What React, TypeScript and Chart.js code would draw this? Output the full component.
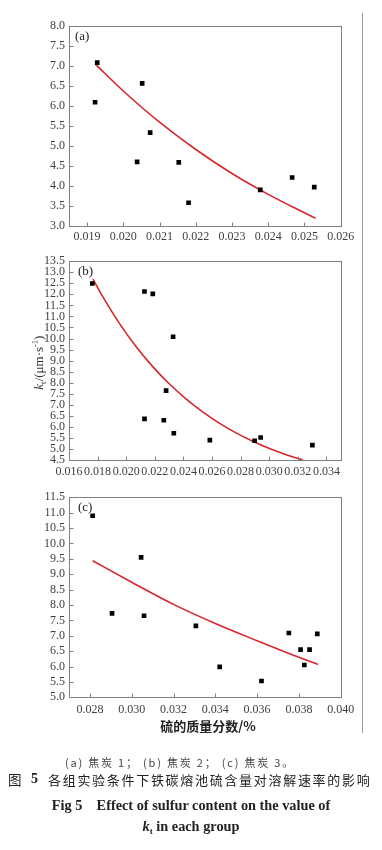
import React, { useEffect, useRef } from "react";
import { Chart, registerables } from "chart.js";
Chart.register(...registerables);

// ---------- data ----------
// panel (a) coke 1
const aPointX = [0.01928, 0.01922, 0.02052, 0.02074, 0.02038, 0.02153, 0.0218, 0.02378, 0.02466, 0.02527];
const aPointY = [7.08, 6.09, 6.56, 5.33, 4.6, 4.59, 3.58, 3.9, 4.21, 3.97];
const aFitX = [0.01924, 0.02, 0.021, 0.022, 0.023, 0.024, 0.025, 0.02531];
const aFitY = [7.03, 6.37, 5.59, 4.91, 4.31, 3.79, 3.33, 3.19];
const aXTicks = [0.019, 0.02, 0.021, 0.022, 0.023, 0.024, 0.025, 0.026];
const aYTicks = [3.0, 3.5, 4.0, 4.5, 5.0, 5.5, 6.0, 6.5, 7.0, 7.5, 8.0];

// panel (b) coke 2
const bPointX = [0.01763, 0.02128, 0.02186, 0.02328, 0.02279, 0.02128, 0.02263, 0.02333, 0.02585, 0.02898, 0.0294, 0.03302];
const bPointY = [12.49, 12.13, 12.02, 10.08, 7.64, 6.36, 6.3, 5.71, 5.4, 5.37, 5.52, 5.17];
const bFitX = [0.01768, 0.01834, 0.0195, 0.02067, 0.02184, 0.02301, 0.02418, 0.02535, 0.02651, 0.02768, 0.02885, 0.03002, 0.03119, 0.03236];
const bFitY = [12.69, 11.92, 10.71, 9.65, 8.74, 7.95, 7.27, 6.68, 6.17, 5.73, 5.35, 5.02, 4.74, 4.5];
const bXTicks = [0.016, 0.018, 0.02, 0.022, 0.024, 0.026, 0.028, 0.03, 0.032, 0.034];
const bYTicks = [4.5, 5.0, 5.5, 6.0, 6.5, 7.0, 7.5, 8.0, 8.5, 9.0, 9.5, 10.0, 10.5, 11.0, 11.5, 12.0, 12.5, 13.0, 13.5];

// panel (c) coke 3
const cPointX = [0.02813, 0.02906, 0.03045, 0.03059, 0.03307, 0.03421, 0.03621, 0.03752, 0.03808, 0.03826, 0.03851, 0.03888];
const cPointY = [10.9, 7.73, 9.55, 7.65, 7.32, 5.99, 5.53, 7.09, 6.55, 6.05, 6.55, 7.06];
const cFitX = [0.02813, 0.03, 0.032, 0.034, 0.036, 0.038, 0.03891];
const cFitY = [9.44, 8.74, 8.02, 7.4, 6.84, 6.3, 6.07];
const cXTicks = [0.028, 0.03, 0.032, 0.034, 0.036, 0.038, 0.04];
const cYTicks = [5.0, 5.5, 6.0, 6.5, 7.0, 7.5, 8.0, 8.5, 9.0, 9.5, 10.0, 10.5, 11.0, 11.5];

const panelLabels = ["(a)", "(b)", "(c)"];
const xTitle = "硫的质量分数/%";
const captionSub = "(a) 焦炭 1； (b) 焦炭 2； (c) 焦炭 3。";
const captionCn = "各组实验条件下铁碳熔池硫含量对溶解速率的影响";
const captionEn = "Fig 5\u2003Effect of sulfur content on the value of";

const SERIF = '"Liberation Serif", "DejaVu Serif", serif';
const CJK = '"Noto Sans CJK SC", "Noto Sans", sans-serif';
const FRAME = "#808080";
const TICK_TEXT = "#404040";

type PanelCfg = {
  pointX: number[];
  pointY: number[];
  fitX: number[];
  fitY: number[];
  xTicks: number[];
  yTicks: number[];
  xMin: number;
  xMax: number;
  yMin: number;
  yMax: number;
  label: string;
  labelDx: number;
  top: number;
  height: number;
  padTop: number;
  xAxisH: number;
  xPad: number;
  yTitle?: boolean;
};

const framePlugin = {
  id: "frameTicks",
  afterDraw(chart: any, _args: any, opts: any) {
    const ctx = chart.ctx as CanvasRenderingContext2D;
    const { left, right, top, bottom } = chart.chartArea;
    const xs = chart.scales.x;
    const ys = chart.scales.y;
    ctx.save();
    ctx.strokeStyle = FRAME;
    ctx.lineWidth = 1;
    const L = Math.round(left) + 0.5;
    const R = Math.round(right) + 0.5;
    const T = Math.round(top) + 0.5;
    const B = Math.round(bottom) + 0.5;
    ctx.strokeRect(L, T, R - L, B - T);
    ctx.beginPath();
    xs.ticks.forEach((t: any) => {
      const px = Math.round(xs.getPixelForValue(t.value)) + 0.5;
      ctx.moveTo(px, B);
      ctx.lineTo(px, B - 4);
    });
    ys.ticks.forEach((t: any) => {
      const py = Math.round(ys.getPixelForValue(t.value)) + 0.5;
      ctx.moveTo(L, py);
      ctx.lineTo(L + 4, py);
    });
    ctx.stroke();
    // panel label
    ctx.fillStyle = "#222";
    ctx.font = `13px ${SERIF}`;
    ctx.textBaseline = "middle";
    ctx.textAlign = "left";
    ctx.fillText(opts.label, left + opts.labelDx, top + 10.5);
    // optional y title with italic k, subscript t, superscript -1
    if (opts.yTitle) {
      ctx.translate(43, (top + bottom) / 2 + 2);
      ctx.rotate(-Math.PI / 2);
      ctx.textBaseline = "alphabetic";
      const parts: [string, string, number][] = [
        ["k", `italic 13px ${SERIF}`, 0],
        ["t", `9px ${SERIF}`, 3],
        ["/(μm·s", `13px ${SERIF}`, 0],
        ["-1", `8.5px ${SERIF}`, -5],
        [")", `13px ${SERIF}`, 0],
      ];
      let w = 0;
      parts.forEach(([s, f]) => {
        ctx.font = f;
        w += ctx.measureText(s).width;
      });
      let x = -w / 2;
      ctx.fillStyle = "#333";
      parts.forEach(([s, f, dy]) => {
        ctx.font = f;
        ctx.fillText(s, x, dy);
        x += ctx.measureText(s).width;
      });
    }
    ctx.restore();
  },
};

function Panel(p: PanelCfg) {
  const ref = useRef<HTMLCanvasElement | null>(null);
  useEffect(() => {
    if (!ref.current) return;
    const pts = p.pointX.map((x, i) => ({ x, y: p.pointY[i] }));
    const fit = p.fitX.map((x, i) => ({ x, y: p.fitY[i] }));
    const chart = new Chart(ref.current, {
      type: "scatter",
      data: {
        datasets: [
          {
            data: pts,
            pointStyle: "rect",
            pointRadius: 3.3,
            backgroundColor: "#000",
            borderColor: "#000",
            borderWidth: 0,
            showLine: false,
          },
          {
            data: fit,
            showLine: true,
            borderColor: "#d8262b",
            borderWidth: 1.6,
            pointRadius: 0,
            tension: 0.4,
            cubicInterpolationMode: "monotone",
            fill: false,
          } as any,
        ],
      },
      options: {
        animation: false,
        responsive: false,
        events: [],
        layout: { padding: { top: p.padTop, right: 382 - 340.7, bottom: 0, left: 0 } },
        plugins: {
          legend: { display: false },
          tooltip: { enabled: false },
          frameTicks: { label: p.label, labelDx: p.labelDx, yTitle: !!p.yTitle },
        } as any,
        scales: {
          x: {
            type: "linear",
            min: p.xMin,
            max: p.xMax,
            afterBuildTicks: (s: any) => {
              s.ticks = p.xTicks.map((v) => ({ value: v }));
            },
            afterFit: (s: any) => {
              s.height = p.xAxisH;
            },
            grid: { display: false, drawTicks: false },
            border: { display: false },
            ticks: {
              autoSkip: false,
              maxRotation: 0,
              minRotation: 0,
              padding: p.xPad,
              color: TICK_TEXT,
              font: { family: SERIF, size: 12 },
              callback: (v: any) => Number(v).toFixed(3),
            },
          },
          y: {
            type: "linear",
            min: p.yMin,
            max: p.yMax,
            afterBuildTicks: (s: any) => {
              s.ticks = p.yTicks.map((v) => ({ value: v }));
            },
            afterFit: (s: any) => {
              s.width = 69;
            },
            grid: { display: false, drawTicks: false },
            border: { display: false },
            ticks: {
              autoSkip: false,
              padding: 4,
              color: TICK_TEXT,
              font: { family: SERIF, size: 12 },
              callback: (v: any) => Number(v).toFixed(1),
            },
          },
        },
      },
      plugins: [framePlugin as any],
    });
    return () => chart.destroy();
  }, []);
  return (
    <canvas
      ref={ref}
      width={382}
      height={p.height}
      style={{ position: "absolute", left: 0, top: p.top, width: 382, height: p.height }}
    />
  );
}

export default function App() {
  return (
    <div
      style={{
        position: "absolute",
        left: 0,
        top: 0,
        width: 382,
        height: 850,
        background: "#fff",
        overflow: "hidden",
      }}
    >
      <div style={{ position: "absolute", left: 362, top: 13, width: 1, height: 720, background: "#9a9a9a" }} />
      <Panel
        pointX={aPointX} pointY={aPointY} fitX={aFitX} fitY={aFitY}
        xTicks={aXTicks} yTicks={aYTicks}
        xMin={0.0185} xMax={0.026} yMin={3} yMax={8}
        label={panelLabels[0]} labelDx={6}
        top={0} height={250} padTop={25.7} xAxisH={24} xPad={4}
      />
      <Panel
        pointX={bPointX} pointY={bPointY} fitX={bFitX} fitY={bFitY}
        xTicks={bXTicks} yTicks={bYTicks}
        xMin={0.016} xMax={0.035} yMin={4.5} yMax={13.5}
        label={panelLabels[1]} labelDx={9}
        top={250} height={235} padTop={10.7} xAxisH={25} xPad={5}
        yTitle
      />
      <Panel
        pointX={cPointX} pointY={cPointY} fitX={cFitX} fitY={cFitY}
        xTicks={cXTicks} yTicks={cYTicks}
        xMin={0.027} xMax={0.04} yMin={5} yMax={11.5}
        label={panelLabels[2]} labelDx={9}
        top={485} height={250} padTop={12.3} xAxisH={37.7} xPad={5}
      />
      <div
        style={{
          position: "absolute", left: 208, top: 725, transform: "translate(-50%,-50%)",
          whiteSpace: "nowrap", fontFamily: CJK, fontWeight: 700, fontSize: 13, color: "#222",
        }}
      >
        {xTitle}
      </div>
      <div
        style={{
          position: "absolute", left: 180, top: 762, transform: "translate(-50%,-50%)",
          whiteSpace: "pre", fontFamily: CJK, fontSize: 11, letterSpacing: 1.8, color: "#444",
        }}
      >
        {captionSub}
      </div>
      <div style={{ position: "absolute", left: 8, top: 779, transform: "translateY(-50%)", fontFamily: CJK, fontSize: 13.5, color: "#222", whiteSpace: "nowrap" }}>
        图
      </div>
      <div style={{ position: "absolute", left: 31, top: 779, transform: "translateY(-50%)", fontFamily: SERIF, fontWeight: 700, fontSize: 14, color: "#222" }}>
        5
      </div>
      <div style={{ position: "absolute", left: 48, top: 779, transform: "translateY(-50%)", fontFamily: CJK, fontSize: 13, letterSpacing: 1.7, color: "#222", whiteSpace: "nowrap" }}>
        {captionCn}
      </div>
      <div
        style={{
          position: "absolute", left: 191, top: 805, transform: "translate(-50%,-50%)",
          whiteSpace: "pre", fontFamily: SERIF, fontWeight: 700, fontSize: 14.3, color: "#222",
        }}
      >
        {captionEn}
      </div>
      <div
        style={{
          position: "absolute", left: 191, top: 827, transform: "translate(-50%,-50%)",
          whiteSpace: "pre", fontFamily: SERIF, fontWeight: 700, fontSize: 14.3, color: "#222",
        }}
      >
        <i>k</i>
        <sub style={{ fontSize: 9 }}>t</sub> in each group
      </div>
    </div>
  );
}
